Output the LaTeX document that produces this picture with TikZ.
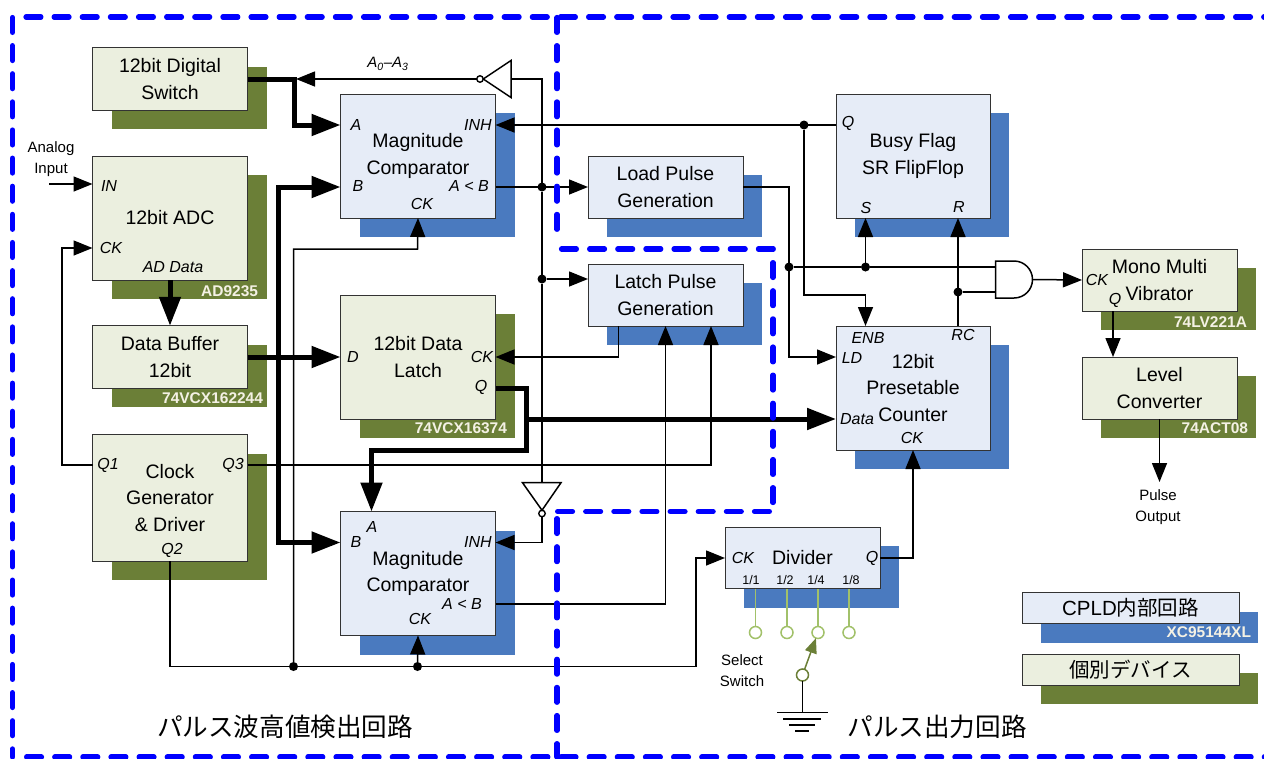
\documentclass[tikz,border=0pt]{standalone}
\usepackage{xcolor}
\usepackage{fontspec}
\setmainfont{Liberation Sans}
\newfontfamily\cjk{Noto Sans CJK JP}
\usetikzlibrary{shapes,arrows.meta,shadows}

\definecolor{cpldfill}{HTML}{E6ECF7}
\definecolor{cpldshade}{HTML}{4A7ABF}
\definecolor{devfill}{HTML}{EBEFDF}
\definecolor{devshade}{HTML}{6B7F37}
\definecolor{pingreen}{HTML}{A2C16A}
\definecolor{partwhite}{HTML}{F4F1E4}

\tikzset{
  every node/.style={inner sep=0, outer sep=0},
  cpld/.style={draw=black!80, line width=1pt, fill=cpldfill, align=center,
    general shadow={draw=none, fill=cpldshade, shadow xshift=19pt, shadow yshift=-19pt},
    font=\fontsize{19.5}{26.5}\selectfont},
  dev/.style={draw=black!80, line width=1pt, fill=devfill, align=center,
    general shadow={draw=none, fill=devshade, shadow xshift=19pt, shadow yshift=-19pt},
    font=\fontsize{19.5}{26.5}\selectfont},
  port/.style={font=\fontsize{16}{16}\selectfont\itshape},
  ratio/.style={font=\fontsize{12.5}{13}\selectfont},
  part/.style={anchor=east, text=partwhite, font=\fontsize{15.5}{16}\selectfont\bfseries},
  note/.style={align=center, font=\fontsize{15}{21}\selectfont},
  title/.style={font=\fontsize{25.6}{26}\selectfont\cjk},
  sig/.style={line width=1.5pt, line join=miter},
  bus/.style={line width=5pt, line join=miter},
  arr/.style={-{Triangle[length=19pt,width=15pt]}},
  bigarr/.style={-{Triangle[length=29pt,width=21pt]}},
  dot/.style={circle, fill=black, minimum size=9pt},
  bubble/.style={circle, draw=black, fill=white, line width=1.4pt, minimum size=6.5pt},
  pin/.style={circle, draw=pingreen, fill=white, line width=1.5pt, minimum size=12pt},
  zone/.style={draw=blue, line width=5.2pt, line cap=round, dash pattern=on 14.9pt off 13.23pt},
}

\begin{document}
\begin{tikzpicture}[x=1pt, y=-1pt]
    \useasboundingbox (0,0) rectangle (1264,758);

    % Devices on the left
    \node[dev, minimum width=155, minimum height=62.5] (switch) at (170,79) {12bit Digital\\Switch};
    \node[dev, minimum width=155, minimum height=124] (adc) at (170,218) {12bit ADC};
    \node[dev, minimum width=155, minimum height=62.5] (buffer) at (170,357) {Data Buffer\\12bit};
    \node[dev, minimum width=155, minimum height=126.5] (clock) at (170,498) {Clock\\Generator\\\& Driver};
    \node[dev, minimum width=155, minimum height=124] (latch) at (418,357) {12bit Data\\Latch};

    % Comparators
    \node[cpld, minimum width=155, minimum height=124] (cmpa) at (418,156) {Magnitude\\Comparator};
    \node[cpld, minimum width=155, minimum height=124] (cmpb) at (418,573.5) {Magnitude\\Comparator};

    % Pulse generators
    \node[cpld, minimum width=155, minimum height=62] (load) at (665.5,187) {Load Pulse\\Generation};
    \node[cpld, minimum width=155, minimum height=62] (strobe) at (665.5,295) {Latch Pulse\\Generation};

    % Flag, counter and divider
    \node[cpld, minimum width=154, minimum height=124] (busy) at (913,156) {Busy Flag\\SR FlipFlop};
    \node[cpld, minimum width=154, minimum height=124] (counter) at (913,388) {12bit\\Presetable\\Counter};
    \node[cpld, minimum width=155, minimum height=61.5] (divider) at (802.5,558) {Divider};

    % Devices on the right
    \node[dev, minimum width=155, minimum height=62] (mono) at (1159.5,280) {Mono Multi\\Vibrator};
    \node[dev, minimum width=155, minimum height=62] (level) at (1159.5,388) {Level\\Converter};

    % Legend
    \node[cpld, minimum width=217, minimum height=31, font=\fontsize{20.5}{22}\selectfont] (legcpld) at (1130.5,608) {CPLD{\cjk 内部回路}};
    \node[dev, minimum width=217, minimum height=31, font=\fontsize{20.5}{22}\selectfont] (legdev) at (1130.5,669.5) {{\cjk 個別デバイス}};

    % Part numbers
    \node[part] (partadc) at (258,291) {AD9235};
    \node[part] (partbuf) at (263,398) {74VCX162244};
    \node[part] (partlatch) at (507,428) {74VCX16374};
    \node[part] (partmono) at (1247,322) {74LV221A};
    \node[part] (partlevel) at (1248,428) {74ACT08};
    \node[part] (partcpld) at (1251,632.5) {XC95144XL};

    % Port names
    \node[port] (adcin) at (109,186) {IN};
    \node[port] (adcck) at (111,248) {CK};
    \node[port] (adcdata) at (173,267) {AD Data};
    \node[port] (cmpaa) at (356,125) {A};
    \node[port] (cmpab) at (358,186) {B};
    \node[port] (cmpainh) at (478,125) {INH};
    \node[port] (cmpalt) at (469,186) {A < B};
    \node[port] (cmpack) at (422,204) {CK};
    \node[port] (latchd) at (353,357) {D};
    \node[port] (latchck) at (482,357) {CK};
    \node[port] (latchq) at (481,387) {Q};
    \node[port] (clockqa) at (108,465) {Q1};
    \node[port] (clockqc) at (233,465) {Q3};
    \node[port] (clockqb) at (172,550) {Q2};
    \node[port] (cmpba) at (372,527) {A};
    \node[port] (cmpbb) at (356,542) {B};
    \node[port] (cmpbinh) at (478,542) {INH};
    \node[port] (cmpblt) at (462,604) {A < B};
    \node[port] (cmpbck) at (420,619) {CK};
    \node[port] (busyq) at (848,123) {Q};
    \node[port] (busys) at (866,208) {S};
    \node[port] (busyr) at (959,207) {R};
    \node[port] (cntenb) at (868,338) {ENB};
    \node[port] (cntrc) at (963,335) {RC};
    \node[port] (cntld) at (852,358) {LD};
    \node[port] (cntdata) at (857,419) {Data};
    \node[port] (cntck) at (912,438) {CK};
    \node[port] (monock) at (1097,280) {CK};
    \node[port] (monoq) at (1115,300) {Q};
    \node[port] (divck) at (743,558) {CK};
    \node[port] (divq) at (872,558) {Q};
    \node[ratio] (divb) at (751,580) {1/1};
    \node[ratio] (divc) at (785,580) {1/2};
    \node[ratio] (divd) at (816,580) {1/4};
    \node[ratio] (dive) at (851,580) {1/8};
    \node[font=\fontsize{15}{15}\selectfont\itshape] (addr) at (388,64) {A$_{\mathit{0}}$--A$_{\mathit{3}}$};

    % Notes and titles
    \node[note] (analog) at (51,159) {Analog\\Input};
    \node[note] (pulse) at (1158,507.5) {Pulse\\Output};
    \node[note] (select) at (742,670.5) {Select\\Switch};
    \node[title] (titlea) at (285,727) {パルス波高値検出回路};
    \node[title] (titleb) at (937,727) {パルス出力回路};

    % Gates
    \node[bubble] (inva) at (480,79) {};
    \coordinate (invain) at (511,79);
    \draw[sig, fill=white] (inva.east) -- (511,60.5) -- (511,97.5) -- cycle;
    \node[bubble] (invb) at (542,513.5) {};
    \coordinate (invbin) at (542,482.7);
    \draw[sig, fill=white] (invb.north) -- (522.5,482.7) -- (561,482.7) -- cycle;
    \node[rounded rectangle, rounded rectangle left arc=none, draw, line width=1.5pt, minimum width=37pt, minimum height=37pt] (andg) at (1014,279.5) {};

    % Junctions
    \node[dot] (dota) at (542,187) {};
    \node[dot] (dotb) at (542,279) {};
    \node[dot] (dotc) at (804,125) {};
    \node[dot] (dotd) at (789,267) {};
    \node[dot] (dote) at (865.5,267) {};
    \node[dot] (dotf) at (958,292) {};
    \node[dot] (dotg) at (293.5,666.5) {};
    \node[dot] (doth) at (417.5,666.5) {};

    % Buses
    \draw[bus, bigarr] (switch.east |- 0,79) -- (294,79) |- (cmpa.west |- 0,125);
    \draw[bus, bigarr] (278.5,358) |- (cmpa.west |- 0,187);
    \draw[bus, bigarr] (278.5,358) |- (cmpb.west |- 0,542.5);
    \draw[bus, bigarr] (adc.south) -- (buffer.north);
    \draw[bus, bigarr] (buffer.east) -- (latch.west);
    \draw[bus, bigarr] (latch.east |- 0,388) -- (526,388) |- (371.5,450) -- (371.5,511.5);
    \draw[bus, bigarr] (526,419) -- (counter.west |- 0,419);

    % Signals
    \draw[sig, arr] (49,184) -- (adc.west |- 0,184);
    \draw[sig, arr] (clock.west |- 0,465) -| (62,248) -- (adc.west |- 0,248);
    \draw[sig, arr] (clock.east |- 0,465) -| (strobe.south -| 711,0);
    \draw[sig] (clock.south) |- (dotg);
    \draw[sig] (dotg) -- (doth);
    \draw[sig, arr] (doth) -| (696,558) -- (divider.west);
    \draw[sig, arr] (doth) -- (cmpb.south);
    \draw[sig, arr] (dotg) |- (417.5,249) -- (cmpa.south);
    \draw[sig, arr] (inva.west) -- (296,79);
    \draw[sig] (invain) -- (542,79) -- (dota);
    \draw[sig] (dota) -- (dotb);
    \draw[sig] (dotb) -- (invbin);
    \draw[sig, arr] (invb.south) |- (cmpb.east |- 0,542.5);
    \draw[sig, arr] (cmpa.east |- 0,187) -- (load.west);
    \draw[sig, arr] (dotb) -- (strobe.west |- 0,279);
    \draw[sig, arr] (strobe.south -| 618.5,0) |- (latch.east);
    \draw[sig, arr] (cmpb.east |- 0,604) -| (strobe.south);
    \draw[sig, arr] (busy.west |- 0,125) -- (cmpa.east |- 0,125);
    \draw[sig, arr] (dotc) |- (865.5,295) -- (counter.north -| 865.5,0);
    \draw[sig, arr] (load.east) -| (789,357) -- (counter.west |- 0,357);
    \draw[sig] (dotd) -- (dote);
    \draw[sig] (dote) -- (andg.west |- dote);
    \draw[sig, arr] (dote) -- (busy.south -| 865.5,0);
    \draw[sig, arr] (counter.north -| 958,0) -- (busy.south -| 958,0);
    \draw[sig] (dotf) -- (andg.west |- dotf);
    \draw[sig, arr] (andg.east) -- (mono.west);
    \draw[sig, arr] (mono.south -| 1113,0) -- (level.north -| 1113,0);
    \draw[sig, arr] (level.south) -- (level.south |- 0,482);
    \draw[sig, arr] (divider.east) -| (counter.south);

    % Select switch
    \foreach \name/\xpos in {pina/755.5, pinb/787, pinc/818, pind/849}{
        \node[pin] (\name) at (\xpos,632.5) {};
        \draw[pingreen, line width=1.5pt] (divider.south -| \xpos,0) -- (\name);
    }
    \node[pin, draw=devshade] (pivot) at (802.5,675) {};
    \draw[devshade, line width=1.5pt, -{Triangle[length=15pt,width=12pt]}] (pivot) -- (pinc);
    \coordinate (gnd) at (802.5,712.5);
    \draw[sig] (pivot) -- (gnd);
    \draw[sig] (777,712.5) -- (828,712.5);
    \draw[sig] (783,719) -- (821,719);
    \draw[sig] (789,725) -- (815,725);
    \draw[sig] (795,731) -- (809,731);

    % Boundaries
    \draw[zone] (26,17) -- (1272,17);
    \draw[zone] (12.5,17.5) -- (12.5,757);
    \draw[zone] (26.6,757) -- (1272,757);
    \draw[zone] (557,17.5) -- (557,238);
    \draw[zone] (561.5,249) -- (775,249);
    \draw[zone] (773,262.6) -- (773,503);
    \draw[zone] (557.6,511.5) -- (773,511.5);
    \draw[zone] (557,518.6) -- (557,757);
\end{tikzpicture}
\end{document}
